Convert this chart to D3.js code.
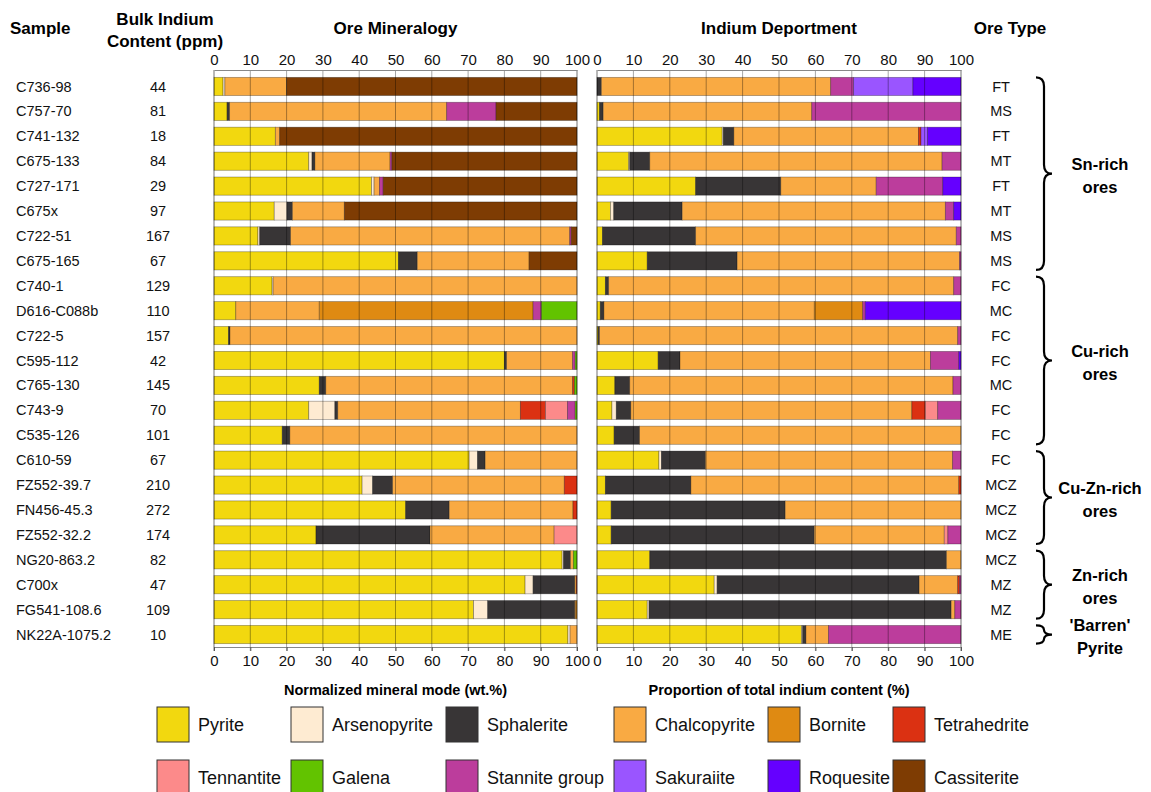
<!DOCTYPE html>
<html>
<head>
<meta charset="utf-8">
<script src="https://cdn.jsdelivr.net/npm/d3@7"></script>
<style>
  body { margin: 0; background: #fff; }
  svg { font-family: "Liberation Sans", Arial, sans-serif; }
  .hdr { font-weight: bold; font-size: 17px; fill: #000; }
  .row { font-size: 14.5px; fill: #111; }
  .tick text { font-size: 15px; fill: #111; }
  .legtxt { font-size: 18px; fill: #111; }
</style>
</head>
<body>
<div id="chart"></div>
<script>
// samples, top to bottom
var samples = ["C736-98","C757-70","C741-132","C675-133","C727-171","C675x","C722-51","C675-165",
  "C740-1","D616-C088b","C722-5","C595-112","C765-130","C743-9","C535-126",
  "C610-59","FZ552-39.7","FN456-45.3","FZ552-32.2","NG20-863.2","C700x","FG541-108.6","NK22A-1075.2"];
var bulkIndium = [44,81,18,84,29,97,167,67,129,110,157,42,145,70,101,67,210,272,174,82,47,109,10];
var oreTypes = ["FT","MS","FT","MT","FT","MT","MS","MS","FC","MC","FC","FC","MC","FC","FC",
  "FC","MCZ","MCZ","MCZ","MCZ","MZ","MZ","ME"];

// legend order
var minerals = ["Pyrite","Arsenopyrite","Sphalerite","Chalcopyrite","Bornite","Tetrahedrite",
  "Tennantite","Galena","Stannite group","Sakuraiite","Roquesite","Cassiterite"];
var mineralKeys = ["Py","Apy","Sp","Ccp","Bn","Td","Tn","Gn","Stn","Sak","Rq","Cst"];
var mineralColors = ["#f2d80f","#feebd2","#383536","#f9aa43","#df8a12","#db3112",
  "#fc8a8a","#62c300","#bc3d9c","#9a55ff","#6500ff","#7e3c03"];
// order the segments are stacked in
var stackKeys = ["Py","Apy","Sp","Ccp","Bn","Td","Tn","Stn","Gn","Sak","Rq","Cst"];

// Ore mineralogy (wt.%)
var oreMode = [
  {Py:2.5, Apy:0.5, Ccp:17, Cst:80},
  {Py:3.6, Sp:0.7, Ccp:59.8, Stn:13.6, Cst:22.3},
  {Py:16.9, Ccp:1.2, Cst:81.9},
  {Py:26.1, Apy:0.9, Sp:0.8, Ccp:20.7, Stn:0.5, Cst:51},
  {Py:43.4, Apy:0.7, Ccp:1.5, Stn:1.0, Cst:53.4},
  {Py:16.6, Apy:3.5, Sp:1.5, Ccp:14.3, Cst:64.1},
  {Py:12.1, Apy:0.5, Sp:8.5, Ccp:76.9, Stn:0.4, Cst:1.6},
  {Py:50.8, Sp:5.2, Ccp:30.8, Cst:13.2},
  {Py:16, Apy:0.3, Ccp:83.7},
  {Py:6.0, Ccp:23.0, Bn:58.9, Stn:2.3, Gn:9.8},
  {Py:4.0, Sp:0.4, Ccp:95.6},
  {Py:80, Sp:0.6, Ccp:18.2, Stn:0.7, Gn:0.5},
  {Py:29, Sp:1.8, Ccp:68.0, Td:0.5, Gn:0.7},
  {Py:26.1, Apy:7.2, Sp:0.8, Ccp:50.3, Td:6.9, Tn:6.1, Stn:2.1, Gn:0.5},
  {Py:18.8, Sp:2.1, Ccp:79.1},
  {Py:70.3, Apy:2.3, Sp:2.1, Ccp:25.3},
  {Py:40.8, Apy:2.9, Sp:5.5, Ccp:47.3, Td:3.5},
  {Py:52.8, Sp:12.0, Ccp:34.1, Td:1.1},
  {Py:28.1, Sp:31.4, Ccp:34.2, Tn:6.3},
  {Py:95.9, Apy:0.4, Sp:1.9, Ccp:0.8, Gn:1.0},
  {Py:85.7, Apy:2.2, Sp:11.5, Ccp:0.4, Td:0.2},
  {Py:71.5, Apy:3.9, Sp:24.0, Ccp:0.3, Bn:0.3},
  {Py:97.5, Apy:0.6, Ccp:1.9}
];

// Indium deportment (% of total In)
var indiumDeport = [
  {Sp:1.2, Ccp:63.0, Stn:6.3, Sak:16.3, Rq:13.2},
  {Py:0.7, Sp:1.0, Ccp:57.3, Stn:41.0},
  {Py:34.4, Apy:0.3, Sp:2.9, Ccp:50.7, Td:0.7, Sak:1.8, Rq:9.2},
  {Py:8.7, Apy:0.3, Sp:5.5, Ccp:80.3, Stn:5.2},
  {Py:27.1, Sp:23.4, Ccp:26.2, Stn:18.3, Rq:5.0},
  {Py:3.7, Apy:0.9, Sp:18.8, Ccp:72.3, Stn:2.3, Rq:2.0},
  {Py:1.5, Sp:25.6, Ccp:71.6, Stn:1.3},
  {Py:13.8, Sp:24.7, Ccp:61.1, Stn:0.4},
  {Py:2.3, Sp:0.9, Ccp:94.8, Stn:2.0},
  {Py:0.9, Sp:1.0, Ccp:57.8, Bn:13.3, Stn:0.7, Rq:26.3},
  {Py:0.3, Sp:0.4, Ccp:98.4, Stn:0.9},
  {Py:16.8, Sp:6.0, Ccp:68.8, Stn:7.8, Rq:0.6},
  {Py:4.9, Sp:4.1, Ccp:88.8, Stn:2.2},
  {Py:4.1, Apy:1.2, Sp:4.0, Ccp:77.2, Td:3.7, Tn:3.4, Stn:6.4},
  {Py:4.7, Sp:7.0, Ccp:88.3},
  {Py:17.0, Apy:0.7, Sp:12.1, Ccp:67.9, Stn:2.3},
  {Py:2.3, Sp:23.5, Ccp:73.6, Td:0.6},
  {Py:3.9, Sp:47.8, Ccp:48.3},
  {Py:3.9, Sp:55.8, Ccp:35.7, Tn:1.0, Stn:3.6},
  {Py:14.5, Sp:81.5, Ccp:4.0},
  {Py:32.2, Apy:0.8, Sp:55.5, Ccp:10.6, Td:0.5, Stn:0.4},
  {Py:13.8, Apy:0.5, Sp:83.0, Ccp:1.0, Stn:1.7},
  {Py:56.2, Apy:0.3, Sp:0.9, Ccp:6.2, Stn:36.4}
];

var xTicks = [0,10,20,30,40,50,60,70,80,90,100];

// ore groups (braces on the right)
var groupLabels = [["Sn-rich","ores"],["Cu-rich","ores"],["Cu-Zn-rich","ores"],["Zn-rich","ores"],["'Barren'","Pyrite"]];
var groupFirst = [0, 8, 15, 19, 22];
var groupLast = [7, 14, 18, 21, 22];

function init() {
    var W = 1151, H = 792;
    var top = 70, bottom = 647;

    var svg = d3.select("#chart").append("svg")
        .attr("width", W).attr("height", H);

    var color = d3.scaleOrdinal().domain(mineralKeys).range(mineralColors);

    var y = d3.scaleBand()
        .domain(samples)
        .range([top + 4, bottom])
        .paddingInner(0.27)
        .paddingOuter(0.135);

    var stack = d3.stack()
        .keys(stackKeys)
        .value(function(d, k) { return d[k] || 0; })
        .offset(d3.stackOffsetExpand);

    // headers
    svg.append("text").attr("class", "hdr").attr("x", 10).attr("y", 34).text("Sample");
    svg.append("text").attr("class", "hdr").attr("x", 165).attr("y", 25).attr("text-anchor", "middle").text("Bulk Indium");
    svg.append("text").attr("class", "hdr").attr("x", 165).attr("y", 47).attr("text-anchor", "middle").text("Content (ppm)");
    svg.append("text").attr("class", "hdr").attr("x", 1010).attr("y", 34).attr("text-anchor", "middle").text("Ore Type");

    // row labels
    svg.selectAll(".sample").data(samples).enter().append("text")
        .attr("class", "row").attr("x", 16)
        .attr("y", function(d) { return y(d) + y.bandwidth() / 2; })
        .attr("dy", "0.35em").text(function(d) { return d; });
    svg.selectAll(".bulk").data(bulkIndium).enter().append("text")
        .attr("class", "row").attr("x", 158).attr("text-anchor", "middle")
        .attr("y", function(d, i) { return y(samples[i]) + y.bandwidth() / 2; })
        .attr("dy", "0.35em").text(function(d) { return d; });
    svg.selectAll(".otype").data(oreTypes).enter().append("text")
        .attr("class", "row").attr("x", 1001).attr("text-anchor", "middle")
        .attr("y", function(d, i) { return y(samples[i]) + y.bandwidth() / 2; })
        .attr("dy", "0.35em").text(function(d) { return d; });

    // one stacked bar panel
    function panel(data, x0, x1, title, xTitle) {
        var x = d3.scaleLinear().domain([0, 100]).range([x0, x1]);
        var g = svg.append("g");
        var series = stack(data);

        g.selectAll(".layer").data(series).enter().append("g")
            .attr("fill", function(d) { return color(d.key); })
            .selectAll("rect")
            .data(function(d) { return d.filter(function(p) { return p[1] - p[0] > 0; }); })
            .enter().append("rect")
            .attr("x", function(d) { return x(d[0] * 100); })
            .attr("width", function(d) { return x(d[1] * 100) - x(d[0] * 100); })
            .attr("y", function(d) { return y(samples[data.indexOf(d.data)]); })
            .attr("height", y.bandwidth())
            .attr("stroke", "rgba(0,0,0,0.35)")
            .attr("stroke-width", 0.8);

        // grid lines over the bars
        g.selectAll(".grid").data(xTicks).enter().append("line")
            .attr("x1", function(d) { return x(d); }).attr("x2", function(d) { return x(d); })
            .attr("y1", top).attr("y2", bottom + 4)
            .attr("stroke", "#000").attr("stroke-opacity", function(d) { return (d === 0 || d === 100) ? 0.55 : 0.35; })
            .attr("stroke-width", 1);

        var topAxis = g.append("g")
            .attr("transform", "translate(0," + top + ")")
            .call(d3.axisTop(x).tickValues(xTicks).tickSize(0).tickPadding(5));
        topAxis.select(".domain").attr("stroke", "#888");
        var botAxis = g.append("g")
            .attr("transform", "translate(0," + bottom + ")")
            .call(d3.axisBottom(x).tickValues(xTicks).tickSize(4).tickPadding(4));
        botAxis.select(".domain").attr("stroke", "#888");
        botAxis.selectAll(".tick line").attr("stroke", "#555");

        svg.append("text").attr("class", "hdr")
            .attr("x", (x0 + x1) / 2).attr("y", 34).attr("text-anchor", "middle").text(title);
        svg.append("text")
            .attr("x", (x0 + x1) / 2).attr("y", 695).attr("text-anchor", "middle")
            .style("font-weight", "bold").style("font-size", "14.5px").text(xTitle);
    }

    panel(oreMode, 214, 577, "Ore Mineralogy", "Normalized mineral mode (wt.%)");
    panel(indiumDeport, 597, 961, "Indium Deportment", "Proportion of total indium content (%)");

    // braces
    function brace(xb, y1, y2, w) {
        var ym = (y1 + y2) / 2, q = Math.min(9, (y2 - y1) / 4), xm = xb + w / 2;
        return "M" + xb + "," + y1 +
            " Q" + xm + "," + y1 + " " + xm + "," + (y1 + q) +
            " L" + xm + "," + (ym - q) +
            " Q" + xm + "," + ym + " " + (xb + w) + "," + ym +
            " Q" + xm + "," + ym + " " + xm + "," + (ym + q) +
            " L" + xm + "," + (y2 - q) +
            " Q" + xm + "," + y2 + " " + xb + "," + y2;
    }
    groupLabels.forEach(function(lab, i) {
        var y1 = y(samples[groupFirst[i]]);
        var y2 = y(samples[groupLast[i]]) + y.bandwidth();
        var ym = (y1 + y2) / 2;
        svg.append("path")
            .attr("d", brace(1036, y1, y2, 16))
            .attr("fill", "none").attr("stroke", "#000").attr("stroke-width", 2.2);
        lab.forEach(function(t, j) {
            svg.append("text").attr("class", "hdr").style("font-size", "16.5px")
                .attr("x", 1100).attr("text-anchor", "middle")
                .attr("y", ym + (j - 0.5) * 23 + 2).attr("dy", "0.35em").text(t);
        });
    });

    // legend
    var legX = [157, 291, 446, 614, 768, 893];
    var legY = [707, 760];
    var leg = svg.selectAll(".leg").data(minerals).enter().append("g")
        .attr("transform", function(d, i) { return "translate(" + legX[i % 6] + "," + legY[Math.floor(i / 6)] + ")"; });
    leg.append("rect").attr("width", 32).attr("height", 35)
        .attr("fill", function(d, i) { return mineralColors[i]; })
        .attr("stroke", "#333").attr("stroke-width", 1);
    leg.append("text").attr("class", "legtxt").attr("x", 41).attr("y", 18).attr("dy", "0.35em")
        .text(function(d) { return d; });
}

window.onload = init;
</script>
</body>
</html>
